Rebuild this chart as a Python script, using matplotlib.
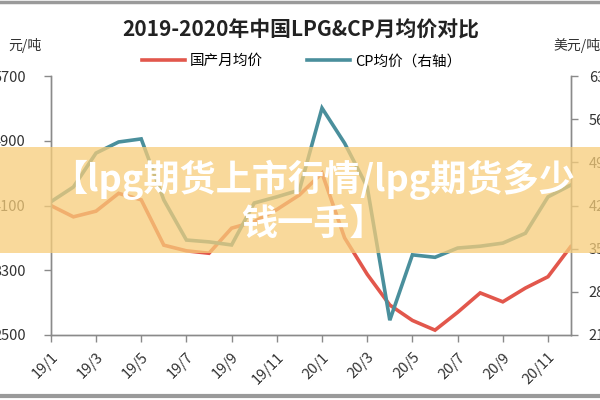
import numpy as np
import matplotlib.pyplot as plt
from matplotlib.patches import Rectangle
from matplotlib.lines import Line2D

plt.rcParams['font.family'] = ['Noto Sans CJK SC', 'DejaVu Sans']

# monthly data, 2019/1 .. 2020/12
months = [f"{y}/{m}" for y in (19, 20) for m in range(1, 13)]
domestic = [4100, 3960, 4030, 4250, 4170, 3610, 3540, 3510, 3820, 3900, 4050, 4230,
            4500, 3700, 3250, 2870, 2680, 2560, 2780, 3020, 2910, 3080, 3220, 3590]
cp_price = [426, 450, 505, 523, 528, 429, 364, 361, 356, 424, 434, 445,
            578, 521, 450, 234, 340, 336, 351, 354, 359, 375, 434, 453]

left_ticks = [2500, 3300, 4100, 4900, 5700]
right_ticks = [210, 280, 350, 420, 490, 560, 630]

RED = '#E2574C'
TEAL = '#4A8F9C'
AXIS = '#8a8a8a'
TXT = '#333333'

fig = plt.figure(figsize=(6, 4), dpi=100)
ax = fig.add_axes([0.0847, 0.1625, 0.8663, 0.6475])
ax2 = ax.twinx()

x = np.arange(len(months))
l1, = ax.plot(x, domestic, color=RED, lw=2.6, solid_joinstyle='miter')
l2, = ax2.plot(x, cp_price, color=TEAL, lw=2.6, solid_joinstyle='miter')

ax.set_xlim(0, len(months) - 1)
ax.set_ylim(2500, 5700)
ax2.set_ylim(210, 630)
ax.set_yticks(left_ticks)
ax2.set_yticks(right_ticks)
ax.set_xticks(x[::2])
ax.set_xticklabels(months[::2], rotation=45, ha='right', va='top',
                   rotation_mode='anchor')

for a in (ax, ax2):
    a.spines['top'].set_visible(False)
    for s in ('left', 'right', 'bottom'):
        a.spines[s].set_color(AXIS)
        a.spines[s].set_linewidth(1.0)
    a.tick_params(colors=AXIS, labelcolor=TXT, labelsize=10.5, length=5, width=1)
ax.tick_params(axis='y', pad=13)
ax2.tick_params(axis='y', pad=8)
ax.tick_params(axis='x', pad=6)

# title, legend, unit labels
fig.text(0.502, 0.925, '2019-2020年中国LPG&CP月均价对比', ha='center', va='center',
         fontsize=15, fontweight='bold', color='#222222')
fig.legend([l1, l2], ['国产月均价', 'CP均价（右轴）'], loc='center',
           bbox_to_anchor=(0.502, 0.847), ncol=2, frameon=False, fontsize=10.5,
           handlelength=3.0, handletextpad=0.3, columnspacing=3.0)
fig.text(0.07, 0.887, '元/吨', ha='right', va='center', fontsize=10, color=TXT)
fig.text(0.922, 0.887, '美元/吨', ha='left', va='center', fontsize=10, color=TXT)

# gray frame lines at top and bottom
fig.add_artist(Line2D([0, 1], [0.995, 0.995], transform=fig.transFigure,
                      color='#9a9a9a', lw=2.5))
fig.add_artist(Line2D([0, 1], [0.01, 0.01], transform=fig.transFigure,
                      color='#9a9a9a', lw=3))

# overlay banner
fig.add_artist(Rectangle((0, 1 - 253 / 400), 1, 106 / 400, transform=fig.transFigure,
                         facecolor='#F7CD7A', alpha=0.75, edgecolor='none', zorder=10))
fig.text(0.522, 1 - 201 / 400, '【lpg期货上市行情/lpg期货多少\n钱一手】', ha='center',
         va='center', multialignment='center', fontsize=26, fontweight='bold',
         color='white', linespacing=1.2, zorder=11)

fig.savefig('out.png', dpi=100)
